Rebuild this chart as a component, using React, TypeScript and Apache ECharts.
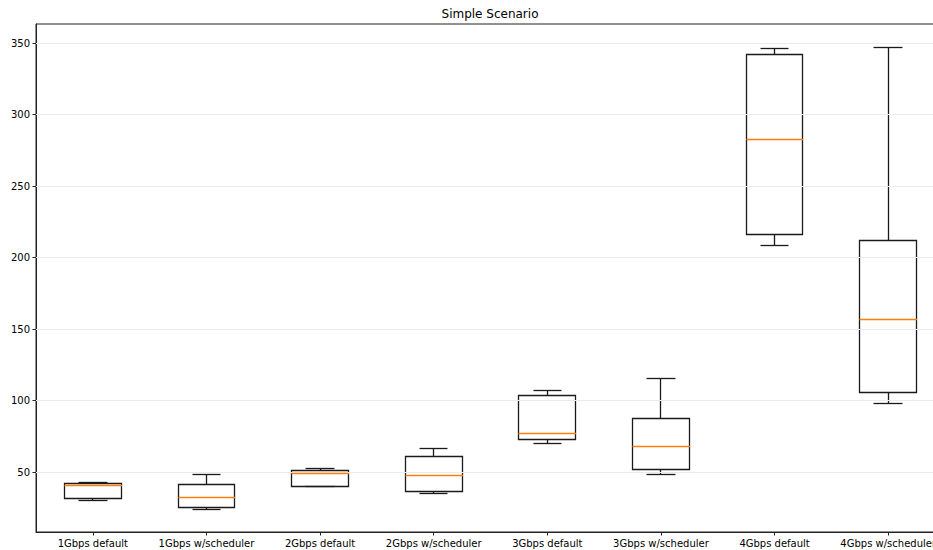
import React, { useEffect, useRef } from "react";
import * as echarts from "echarts";

const categories = [
  "1Gbps default",
  "1Gbps w/scheduler",
  "2Gbps default",
  "2Gbps w/scheduler",
  "3Gbps default",
  "3Gbps w/scheduler",
  "4Gbps default",
  "4Gbps w/scheduler",
];
const whiskerLow = [30.0, 23.9, 40.0, 35.1, 70.0, 48.3, 208.1, 98.2];
const q1 = [31.2, 24.9, 40.2, 36.5, 73.0, 52.1, 215.8, 105.8];
const medians = [40.4, 32.1, 48.8, 47.9, 77.2, 68.1, 282.4, 156.8];
const q3 = [42.0, 41.1, 51.1, 60.7, 103.2, 87.7, 341.9, 211.6];
const whiskerHigh = [42.5, 48.3, 52.8, 66.7, 106.7, 115.1, 346.3, 346.8];
const yTicks = [50, 100, 150, 200, 250, 300, 350];

const FONT = "DejaVu Sans";

export default function App() {
  const ref = useRef<HTMLDivElement>(null);
  useEffect(() => {
    if (!ref.current) return;
    const chart = echarts.init(ref.current, undefined, { renderer: "svg" });
    const data = categories.map((_, i) => [
      i,
      whiskerLow[i],
      q1[i],
      medians[i],
      q3[i],
      whiskerHigh[i],
    ]);
    const medData = categories.map((_, i) => [i, medians[i]]);
    const crisp = (v: number) => Math.round(v - 0.5) + 0.5;
    const mk = () => ({ stroke: "#1a1a1a", lineWidth: 1.3, fill: null as any });
    const option: any = {
      animation: false,
      backgroundColor: "#fff",
      textStyle: { fontFamily: FONT },
      graphic: [
        {
          type: "text",
          x: 490,
          y: 14,
          style: {
            text: "Simple Scenario",
            font: `12px "${FONT}"`,
            fill: "#000",
            textAlign: "center",
            textVerticalAlign: "middle",
          },
        },
      ],
      grid: {
        left: 36,
        top: 24,
        right: 15,
        bottom: 18,
        show: true,
        borderColor: "#222",
        borderWidth: 1,
        backgroundColor: "transparent",
      },
      xAxis: {
        type: "category",
        data: categories,
        boundaryGap: true,
        axisLine: { show: true, lineStyle: { color: "#222", width: 1 } },
        axisTick: {
          show: true,
          alignWithLabel: true,
          length: 3.5,
          lineStyle: { color: "#222" },
        },
        axisLabel: {
          interval: 0,
          fontSize: 10,
          color: "#000",
          margin: 6,
          fontFamily: FONT,
        },
        splitLine: { show: false },
      },
      yAxis: {
        type: "value",
        min: 8.1,
        max: 363.3,
        axisLine: { show: true, lineStyle: { color: "#222", width: 1 } },
        axisTick: {
          show: true,
          length: 3.5,
          lineStyle: { color: "#222" },
          customValues: yTicks,
        },
        axisLabel: {
          fontSize: 10,
          color: "#000",
          margin: 6,
          fontFamily: FONT,
          customValues: yTicks,
        },
        splitLine: { show: false },
      },
      series: [
        {
          type: "line",
          data: [],
          z: 1,
          silent: true,
          markLine: {
            silent: true,
            symbol: "none",
            label: { show: false },
            lineStyle: { color: "#ebebeb", type: "solid", width: 1 },
            data: yTicks.map((v) => ({ yAxis: v })),
          },
        },
        {
          type: "custom",
          z: 3,
          silent: true,
          data,
          encode: { x: 0, y: [1, 2, 3, 4, 5] },
          renderItem: (params: any, api: any) => {
            const idx = api.value(0);
            const lo = api.coord([idx, api.value(1)]);
            const b1 = api.coord([idx, api.value(2)]);
            const b3 = api.coord([idx, api.value(4)]);
            const hi = api.coord([idx, api.value(5)]);
            const bw = api.size([1, 0])[0] * 0.5;
            const cx = crisp(lo[0]);
            const half = bw / 2;
            const capHalf = bw / 4;
            const yLo = crisp(lo[1]);
            const yB1 = crisp(b1[1]);
            const yB3 = crisp(b3[1]);
            const yHi = crisp(hi[1]);
            const xl = crisp(lo[0] - half);
            const xr = crisp(lo[0] + half);
            return {
              type: "group",
              children: [
                {
                  type: "line",
                  shape: { x1: cx, y1: yB1, x2: cx, y2: yLo },
                  style: mk(),
                },
                {
                  type: "line",
                  shape: { x1: crisp(lo[0] - capHalf), y1: yLo, x2: crisp(lo[0] + capHalf), y2: yLo },
                  style: mk(),
                },
                {
                  type: "line",
                  shape: { x1: cx, y1: yB3, x2: cx, y2: yHi },
                  style: mk(),
                },
                {
                  type: "line",
                  shape: { x1: crisp(lo[0] - capHalf), y1: yHi, x2: crisp(lo[0] + capHalf), y2: yHi },
                  style: mk(),
                },
                {
                  type: "rect",
                  shape: { x: xl, y: yB3, width: xr - xl, height: yB1 - yB3 },
                  style: mk(),
                },
              ],
            };
          },
        },
        {
          type: "custom",
          z: 5,
          silent: true,
          data: medData,
          encode: { x: 0, y: 1 },
          itemStyle: { color: "#ff7f0e" },
          renderItem: (params: any, api: any) => {
            const idx = api.value(0);
            const md = api.coord([idx, api.value(1)]);
            const bw = api.size([1, 0])[0] * 0.5;
            const xl = crisp(md[0] - bw / 2);
            const xr = crisp(md[0] + bw / 2) + 0.5;
            const y = crisp(md[1]);
            return {
              type: "line",
              shape: { x1: xl, y1: y, x2: xr, y2: y },
              style: { stroke: "#ff7f0e", lineWidth: 1.4, fill: null as any },
            };
          },
        },
      ],
    };
    chart.setOption(option);
    return () => chart.dispose();
  }, []);
  return (
    <div
      style={{
        position: "absolute",
        left: 0,
        top: 0,
        width: 933,
        height: 550,
        overflow: "hidden",
      }}
    >
      <div ref={ref} style={{ width: 960, height: 550 }} />
    </div>
  );
}
